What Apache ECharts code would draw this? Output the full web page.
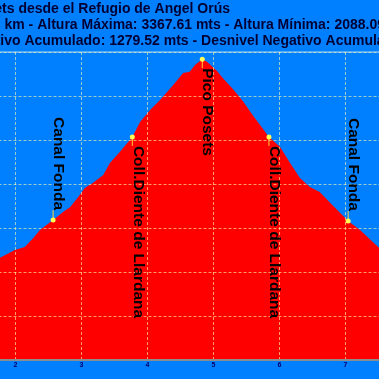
<!DOCTYPE html>
<html>
<head>
<meta charset="utf-8">
<script src="https://cdn.jsdelivr.net/npm/echarts@6/dist/echarts.min.js"></script>
<style>
html,body{margin:0;padding:0;background:#0080ff;}
#c{width:379px;height:379px;}
</style>
</head>
<body>
<div id="c"></div>
<script>
// Profile data: distance (km) and altitude (m)
const distKm = [0.00, 1.76, 1.99, 2.14, 2.27, 2.37, 2.57, 2.72, 2.83, 2.95, 3.05, 3.17, 3.33, 3.43, 3.58, 3.77, 3.89, 4.05, 4.19, 4.39, 4.54, 4.64, 4.72, 4.83, 4.90, 5.05, 5.14, 5.30, 5.45, 5.60, 5.70, 5.84, 6.01, 6.16, 6.31, 6.46, 6.61, 6.77, 6.92, 7.04, 7.22, 7.51, 9.68];
const altM   = [2088.09, 2464, 2500, 2514, 2555, 2591, 2636, 2673, 2695, 2741, 2782, 2805, 2841, 2895, 2945, 3014, 3083, 3140, 3182, 3250, 3304, 3310, 3341, 3367.61, 3356, 3315, 3282, 3230, 3175, 3110, 3070, 3014, 2968, 2895, 2827, 2786, 2764, 2714, 2668, 2632, 2591, 2509, 2088.09];

// Waypoints
const wpNames = ['Canal Fonda', 'Coll.Diente de Llardana', 'Pico Posets', 'Coll.Diente de Llardana', 'Canal Fonda'];
const wpKm    = [2.57, 3.77, 4.83, 5.84, 7.04];
const wpAlt   = [2636, 3014, 3367.61, 3014, 2632];

// Title lines
const titleLines = [
  'Pico Posets desde el Refugio de Angel Orús',
  'Distancia: 9.68 km - Altura Máxima: 3367.61 mts - Altura Mínima: 2088.09 mts',
  'Desnivel Positivo Acumulado: 1279.52 mts - Desnivel Negativo Acumulado: 1279.52 mts'
];

const titleFont = 'bold 14px "Liberation Sans", Arial, sans-serif';
const mctx = document.createElement('canvas').getContext('2d');
mctx.font = titleFont;
const w2 = mctx.measureText('Distancia: 9.68 ').width;
const w3 = mctx.measureText('Desnivel Posit').width;

const chart = echarts.init(document.getElementById('c'), null, {renderer: 'canvas'});
const gridLine = {show: true, lineStyle: {color: 'rgba(255,255,170,0.6)', type: [3, 2], width: 1}};

chart.setOption({
  backgroundColor: '#0080ff',
  animation: false,
  grid: {left: -116.5, top: 52, width: 660, height: 308, containLabel: false, outerBoundsMode: 'none',
         show: true, borderColor: 'rgba(190,225,255,0.9)', borderWidth: 1, backgroundColor: 'transparent'},
  xAxis: {
    type: 'value', min: 0, max: 10, interval: 1, z: 5,
    axisLine: {lineStyle: {color: '#8c8c8c', width: 2}},
    axisTick: {show: false},
    axisLabel: {fontSize: 7, fontWeight: 'bold', color: '#000066', margin: 2},
    splitLine: gridLine
  },
  yAxis: {
    type: 'value', min: 2000, max: 3400, interval: 200, z: 5,
    axisLine: {show: false}, axisTick: {show: false}, axisLabel: {show: false},
    splitLine: gridLine
  },
  graphic: [
    {type: 'text', x: 230, y: 9, style: {text: titleLines[0], font: titleFont, fill: '#000033', align: 'right', verticalAlign: 'middle'}},
    {type: 'text', x: 4.5 - w2, y: 25.3, style: {text: titleLines[1], font: titleFont, fill: '#000033', align: 'left', verticalAlign: 'middle'}},
    {type: 'text', x: 0.3 - w3, y: 41.6, style: {text: titleLines[2], font: titleFont, fill: '#000033', align: 'left', verticalAlign: 'middle'}}
  ],
  series: [
    {
      type: 'line', z: 2,
      data: distKm.map((d, i) => [d, altM[i]]),
      showSymbol: false, smooth: false,
      lineStyle: {width: 0, color: '#ff0000'},
      areaStyle: {color: '#ff0000', opacity: 1}
    },
    {
      type: 'custom', z: 10,
      data: wpKm.map((d, i) => [d, wpAlt[i], wpNames[i]]),
      renderItem: function (params, api) {
        const p = api.coord([api.value(0), api.value(1)]);
        const name = wpNames[params.dataIndex];
        const above = name === 'Canal Fonda';
        const ty = above ? p[1] - 10 : p[1] + 9;
        return {
          type: 'group',
          children: [
            {type: 'line', shape: {x1: p[0], y1: p[1], x2: p[0], y2: ty}, style: {stroke: '#ffd040', lineWidth: 1}},
            {type: 'circle', shape: {cx: p[0], cy: p[1], r: 2.5}, style: {fill: '#ffff55'}},
            {type: 'text', x: p[0] + 5.5, y: ty, rotation: -Math.PI / 2,
             style: {text: name, font: 'bold 15.5px "Liberation Sans", Arial, sans-serif', fill: '#000000',
                     align: above ? 'right' : 'left', verticalAlign: 'middle'}}
          ]
        };
      }
    }
  ]
});
</script>
</body>
</html>
